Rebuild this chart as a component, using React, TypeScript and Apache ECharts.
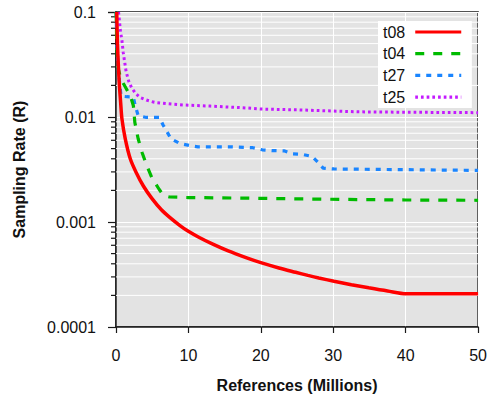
import React, { useEffect, useRef } from "react";
import * as echarts from "echarts";

const seriesNames = ["t08", "t04", "t27", "t25"];
const seriesColors = ["#ff0000", "#00bb00", "#1a85ff", "#c41aff"];

const t08: [number, number][] = [
  [0.1, 0.1], [0.2, 0.05], [0.3, 0.034], [0.45, 0.021], [0.65, 0.0135], [0.82, 0.0096],
  [1.28, 0.0062], [1.97, 0.004], [2.75, 0.003], [3.8, 0.00219], [4.95, 0.00168], [6.3, 0.0013],
  [7.46, 0.0011], [8.79, 0.00093], [9.93, 0.00082], [11.5, 0.000712], [13.37, 0.000615],
  [15.5, 0.00053], [17.95, 0.000458], [20, 0.00041], [22.5, 0.000365], [24.8, 0.000332],
  [26.5, 0.00031], [28, 0.000293], [30.1, 0.000273], [32.5, 0.000253], [34.9, 0.000236],
  [37.5, 0.00022], [40.1, 0.000207], [45, 0.000207], [50, 0.000207],
];
const t04: [number, number][] = [
  [0.02, 0.1], [0.1, 0.05], [0.3, 0.029], [0.6, 0.024], [1.0, 0.021], [1.7, 0.0172],
  [2.1, 0.015], [2.4, 0.0128], [2.6, 0.0089], [3.06, 0.0062], [3.6, 0.0046], [4.2, 0.0035],
  [5.0, 0.0026], [5.95, 0.00205], [6.6, 0.00178], [7.4, 0.00173], [10, 0.00171], [20, 0.00168],
  [25, 0.00166], [32, 0.00164], [40, 0.00162], [50, 0.00161],
];
const t27: [number, number][] = [
  [0.02, 0.1], [0.1, 0.05], [0.3, 0.03], [0.45, 0.023], [0.7, 0.0158], [1.5, 0.0156],
  [2.4, 0.0155], [2.6, 0.0133], [3.06, 0.0103], [4.2, 0.0099], [6.0, 0.0099], [6.5, 0.0084],
  [7.6, 0.0062], [8.8, 0.0056], [10.2, 0.00535], [11.3, 0.0052], [15.9, 0.0052], [18.9, 0.0051],
  [20.2, 0.00487], [21.7, 0.00478], [23.2, 0.00476], [24.4, 0.00445], [25.8, 0.0044],
  [27.1, 0.0042], [27.9, 0.0037], [28.6, 0.00326], [30.1, 0.0032], [40, 0.00315], [50, 0.0031],
];
const t25: [number, number][] = [
  [0.35, 0.1], [0.63, 0.064], [0.8, 0.055], [1.0, 0.041], [1.4, 0.027], [1.75, 0.022],
  [2.15, 0.019], [2.7, 0.0168], [3.3, 0.0154], [4.2, 0.0145], [5.3, 0.0138], [7, 0.0134],
  [9.5, 0.013], [13, 0.0127], [18, 0.0122], [20, 0.0119], [25, 0.0117], [30, 0.0114],
  [33.5, 0.0112], [40, 0.0111], [50, 0.011],
];

const xTicks = [0, 10, 20, 30, 40, 50];
const yTickLabels = ["0.0001", "0.001", "0.01", "0.1"];
const yMinorValues = [
  0.0002, 0.0003, 0.0004, 0.0005, 0.0006, 0.0007, 0.0008, 0.0009,
  0.002, 0.003, 0.004, 0.005, 0.006, 0.007, 0.008, 0.009,
  0.02, 0.03, 0.04, 0.05, 0.06, 0.07, 0.08, 0.09,
];

const FONT = "'Liberation Sans', Arial, Helvetica, sans-serif";

export default function App() {
  const ref = useRef<HTMLDivElement>(null);
  useEffect(() => {
    if (!ref.current) return;
    const chart = echarts.init(ref.current, undefined, { renderer: "svg" });
    const lineTypes: any[] = ["solid", [9, 9], [5, 6], [2.7, 3]];
    const widths = [3.5, 3.2, 3.2, 3];
    const datas = [t08, t04, t27, t25];
    chart.setOption({
      animation: false,
      textStyle: { fontFamily: FONT },
      grid: {
        left: 116, right: 10, top: 12, bottom: 69,
        show: true, backgroundColor: "#e3e3e3", borderColor: "#1a1a1a", borderWidth: 1.5,
      },
      legend: {
        data: seriesNames,
        left: 378, top: 21,
        orient: "vertical",
        align: "right",
        backgroundColor: "#ffffff",
        padding: [3, 9, 3, 5],
        itemWidth: 46, itemHeight: 14, itemGap: 5.7,
        itemStyle: { opacity: 0 },
        lineStyle: { width: 3.2 },
        textStyle: { fontSize: 16, color: "#111", fontFamily: FONT, padding: [0, 5, 0, 0] },
      },
      xAxis: {
        type: "value", min: 0, max: 50, interval: 10,
        name: "References (Millions)", nameLocation: "middle", nameGap: 50,
        nameTextStyle: { fontSize: 16, fontWeight: "bold", color: "#111", fontFamily: FONT },
        axisLine: { show: true, lineStyle: { color: "#1a1a1a", width: 1.5 } },
        axisTick: { show: true, length: 6, lineStyle: { color: "#1a1a1a", width: 1.2 } },
        axisLabel: {
          margin: 20, fontSize: 16, color: "#111", fontFamily: FONT,
          formatter: (v: number) => (xTicks.includes(v) ? String(v) : ""),
        },
        splitLine: { show: true, lineStyle: { color: "#ffffff", width: 1 } },
      },
      yAxis: {
        type: "log", logBase: 10, min: 0.0001, max: 0.1,
        name: "Sampling Rate (R)", nameLocation: "middle", nameGap: 89,
        nameTextStyle: { fontSize: 16, fontWeight: "bold", color: "#111", fontFamily: FONT },
        axisLine: { show: true, lineStyle: { color: "#1a1a1a", width: 1.5 } },
        axisTick: { show: true, length: 8, lineStyle: { color: "#1a1a1a", width: 1.2 } },
        axisLabel: {
          margin: 20, fontSize: 16, color: "#111", fontFamily: FONT,
          formatter: (_v: number, i: number) => yTickLabels[i] ?? "",
        },
        splitLine: { show: true, lineStyle: { color: "#ffffff", width: 1 } },
      },
      series: [
        {
          type: "custom",
          name: "minor",
          z: 1,
          silent: true,
          clip: false,
          encode: { x: 0, y: 1 },
          data: yMinorValues.map((v) => [0, v]),
          renderItem: (params: any, api: any) => {
            const p = api.coord([0, api.value(1)]);
            const cs = params.coordSys;
            return {
              type: "group",
              children: [
                { type: "line", shape: { x1: cs.x, y1: p[1], x2: cs.x + cs.width, y2: p[1] }, style: { stroke: "#ffffff", lineWidth: 1 } },
                { type: "line", shape: { x1: cs.x - 5, y1: p[1], x2: cs.x, y2: p[1] }, style: { stroke: "#1a1a1a", lineWidth: 1.2 } },
              ],
            };
          },
        },
        ...seriesNames.map((name, i) => ({
          type: "line",
          name,
          z: 3 + (3 - i),
          data: datas[i],
          showSymbol: false,
          symbol: "none",
          smooth: i === 0 ? 0.3 : false,
          clip: true,
          itemStyle: { color: seriesColors[i] },
          lineStyle: { color: seriesColors[i], width: widths[i], type: lineTypes[i] },
        })),
      ],
    });
    return () => chart.dispose();
  }, []);
  return (
    <div
      ref={ref}
      style={{ position: "absolute", left: 0, top: 0, width: 490, height: 398 }}
    />
  );
}
